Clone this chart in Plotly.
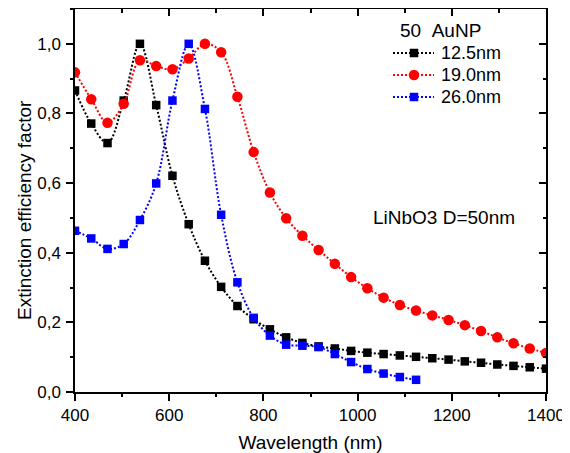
import plotly.graph_objects as go

wavelength = [400.0, 434.5, 469.0, 503.4, 537.9, 572.4, 606.9, 641.4, 675.9, 710.3,
              744.8, 779.3, 813.8, 848.3, 882.8, 917.2, 951.7, 986.2, 1020.7, 1055.2,
              1089.7, 1124.1, 1158.6, 1193.1, 1227.6, 1262.1, 1296.6, 1331.0, 1365.5, 1400.0]

ext_125 = [0.866, 0.771, 0.715, 0.837, 1.0, 0.824, 0.621, 0.482, 0.377, 0.302,
           0.247, 0.209, 0.180, 0.157, 0.141, 0.131, 0.125, 0.118, 0.113, 0.109,
           0.105, 0.101, 0.097, 0.093, 0.088, 0.084, 0.079, 0.075, 0.071, 0.067]

ext_190 = [0.918, 0.841, 0.773, 0.828, 0.953, 0.936, 0.927, 0.958, 1.0, 0.976,
           0.848, 0.689, 0.573, 0.499, 0.449, 0.408, 0.368, 0.330, 0.298, 0.271,
           0.250, 0.234, 0.220, 0.207, 0.192, 0.175, 0.157, 0.140, 0.125, 0.112]

wavelength_26 = wavelength[:22]
ext_260 = [0.463, 0.441, 0.411, 0.425, 0.494, 0.599, 0.837, 1.0, 0.813, 0.509,
           0.315, 0.213, 0.162, 0.136, 0.133, 0.129, 0.109, 0.086, 0.066, 0.053,
           0.043, 0.035]

series_names = ["12.5nm", "19.0nm", "26.0nm"]
series_colors = ["black", "#ff0000", "#0000ff"]
series_symbols = ["square", "circle", "square"]

y_tickvals = [0.0, 0.2, 0.4, 0.6, 0.8, 1.0]
y_ticktext = ["0,0", "0,2", "0,4", "0,6", "0,8", "1,0"]
x_tickvals = [400, 600, 800, 1000, 1200, 1400]

FONT = "Liberation Sans, Arial, sans-serif"
DASH = "2px,2px"
LW = 2

# The page body has an 8px margin, so the figure is laid out 8px in from the window edges.
OFF = 8
W, H = 570 - OFF, 453 - OFF
# target plot area in window pixels: x 75..546, y 9..392
ML, MT = 75 - OFF, 9 - OFF
MR, MB = W - (546 - OFF), H - (392 - OFF)
PW, PH = W - ML - MR, H - MT - MB


def px_x(px):
    """window pixel x -> paper coordinate"""
    return (px - OFF - ML) / PW


def px_y(py):
    """window pixel y -> paper coordinate"""
    return (H - MB - (py - OFF)) / PH


fig = go.Figure()

xs_list = [wavelength, wavelength, wavelength_26]
ys_list = [ext_125, ext_190, ext_260]
for name, xs, ys, col, sym in zip(series_names, xs_list, ys_list, series_colors, series_symbols):
    sz = 10.5 if sym == "circle" else 8.5
    fig.add_trace(go.Scatter(
        x=xs, y=ys, name=name, mode="lines+markers",
        line=dict(color=col, width=LW, dash=DASH, shape="spline", smoothing=1),
        marker=dict(color=col, symbol=sym, size=sz, line=dict(width=0)),
        showlegend=False,
    ))

# empty trace to create top/right mirror axes with inward ticks
fig.add_trace(go.Scatter(x=[], y=[], xaxis="x2", yaxis="y2", showlegend=False,
                         hoverinfo="skip"))

# hand-drawn legend
shapes = []
annotations = []
row_y = [53, 75, 97]
for name, col, sym, ry in zip(series_names, series_colors, series_symbols, row_y):
    shapes.append(dict(type="line", xref="paper", yref="paper",
                       x0=px_x(393), x1=px_x(434), y0=px_y(ry), y1=px_y(ry),
                       line=dict(color=col, width=LW, dash=DASH)))
    half = 5.25 if sym == "circle" else 4.25
    shapes.append(dict(type="circle" if sym == "circle" else "rect", xref="paper", yref="paper",
                       x0=px_x(414 - half), x1=px_x(414 + half),
                       y0=px_y(ry + half), y1=px_y(ry - half),
                       fillcolor=col, line=dict(width=0)))
    annotations.append(dict(text=name, xref="paper", yref="paper", x=px_x(439), y=px_y(ry),
                            xanchor="left", yanchor="middle", showarrow=False,
                            font=dict(size=18)))

annotations.append(dict(text="50\u00a0\u00a0AuNP", xref="paper", yref="paper",
                        x=px_x(398), y=px_y(30), xanchor="left", yanchor="middle",
                        showarrow=False, font=dict(size=19)))
annotations.append(dict(text="LiNbO3 D=50nm", xref="paper", yref="paper",
                        x=px_x(371), y=px_y(217), xanchor="left", yanchor="middle",
                        showarrow=False, font=dict(size=19)))
# y-axis title
annotations.append(dict(text="Extinction efficiency factor", xref="paper", yref="paper",
                        x=px_x(24), y=px_y(210), xanchor="center", yanchor="middle",
                        textangle=-90, showarrow=False, font=dict(size=19)))

axis_common = dict(showgrid=False, zeroline=False, linecolor="black", linewidth=1.5,
                   automargin=False)
tick_common = dict(ticklen=7, tickwidth=1.5, tickcolor="black")
minor_common = dict(ticklen=3.5, tickwidth=1.5, tickcolor="black")

fig.update_layout(
    width=W, height=H,
    margin=dict(l=ML, r=MR, t=MT, b=MB, autoexpand=False),
    paper_bgcolor="white", plot_bgcolor="white",
    font=dict(family=FONT, color="black", size=17),
    showlegend=False,
    xaxis=dict(range=[400, 1400], tickvals=x_tickvals, ticks="outside",
               showline=True, mirror=True, tickfont=dict(size=17),
               title=dict(text="Wavelength (nm)", font=dict(size=19)),
               minor=dict(ticks="outside", dtick=100, **minor_common),
               **tick_common, **axis_common),
    yaxis=dict(range=[0, 1.1], tickvals=y_tickvals, ticktext=y_ticktext, ticks="outside",
               showline=True, mirror=True, tickfont=dict(size=17), ticklabelstandoff=2,
               minor=dict(ticks="outside", dtick=0.1, **minor_common),
               **tick_common, **axis_common),
    xaxis2=dict(range=[400, 1400], overlaying="x", side="top", anchor="y",
                tickvals=x_tickvals, ticks="inside", showticklabels=False, showline=False,
                minor=dict(ticks="inside", dtick=100, **minor_common),
                **tick_common, showgrid=False, zeroline=False, automargin=False),
    yaxis2=dict(range=[0, 1.1], overlaying="y", side="right", anchor="x",
                tickvals=y_tickvals, ticks="inside", showticklabels=False, showline=False,
                minor=dict(ticks="inside", dtick=0.1, **minor_common),
                **tick_common, showgrid=False, zeroline=False, automargin=False),
    shapes=shapes,
    annotations=annotations,
)

fig.write_html("out.html")
